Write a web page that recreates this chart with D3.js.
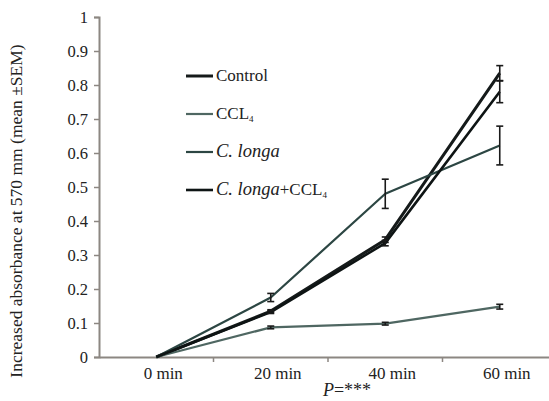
<!DOCTYPE html>
<html>
<head>
<meta charset="utf-8">
<script src="https://cdn.jsdelivr.net/npm/d3@7"></script>
<style>
  body { margin: 0; background: #fff; }
</style>
</head>
<body>
<div id="chart"></div>
<script>
'use strict'

// data
const times = ['0 min', '20 min', '40 min', '60 min']
const yTicks = [0, 0.1, 0.2, 0.3, 0.4, 0.5, 0.6, 0.7, 0.8, 0.9, 1]

const controlVals = [0, 0.135, 0.345, 0.835]
const controlErr = [0, 0.004, 0.008, 0.022]
const cclVals = [0, 0.087, 0.098, 0.148]
const cclErr = [0, 0.004, 0.004, 0.007]
const longaVals = [0, 0.175, 0.48, 0.622]
const longaErr = [0, 0.012, 0.043, 0.057]
const longaCclVals = [0, 0.132, 0.335, 0.78]
const longaCclErr = [0, 0.004, 0.008, 0.032]

const series = [
  {name: 'Control', vals: controlVals, err: controlErr, color: '#151a1a', width: 3},
  {name: 'CCL4', vals: cclVals, err: cclErr, color: '#4f6762', width: 2.2},
  {name: 'C. longa', vals: longaVals, err: longaErr, color: '#2c4643', width: 2.2},
  {name: 'C. longa+CCL4', vals: longaCclVals, err: longaCclErr, color: '#0e1414', width: 2.6}
]

const fontFamily = '"Liberation Serif", "Times New Roman", serif'

////////////////////////////////////
//////////// svg setup /////////////
////////////////////////////////////

const svgWidth = 549
const svgHeight = 401
const margin = {left: 99, top: 17, right: 0, bottom: 44}
const height = svgHeight - margin.top - margin.bottom

const svg = d3.select('#chart')
  .append('svg')
  .attr('width', svgWidth)
  .attr('height', svgHeight)

const g = svg.append('g')
  .attr('transform', `translate(${margin.left},${margin.top})`)

////////////////////////////////////
//////////////scales////////////////
////////////////////////////////////

const xScale = d3.scaleBand()
  .domain(times)
  .range([0, 458])

const yScale = d3.scaleLinear()
  .domain([0, 1])
  .range([height, 0])

const xMid = d => xScale(d) + xScale.bandwidth() / 2

////////////////////////////////////
//////////////axes//////////////////
////////////////////////////////////

const axisColor = '#8c8782'

const yAxis = g.append('g')
  .call(d3.axisLeft(yScale).tickValues(yTicks).tickFormat(d => d === 0 || d === 1 ? d : d.toFixed(1)).tickSize(5).tickPadding(6))
yAxis.select('.domain').attr('stroke', axisColor).attr('stroke-width', 2)
yAxis.selectAll('.tick line').attr('stroke', axisColor).attr('stroke-width', 1.5)
yAxis.selectAll('.tick text')
  .style('font-family', fontFamily)
  .style('font-size', '16.5px')
  .attr('fill', '#222')

const xAxis = g.append('g')
  .attr('transform', `translate(0,${height})`)
  .call(d3.axisBottom(xScale).tickSize(0).tickPadding(10))
xAxis.select('.domain').attr('stroke', axisColor).attr('stroke-width', 2)
xAxis.selectAll('.tick text')
  .style('font-family', fontFamily)
  .style('font-size', '17px')
  .attr('fill', '#222')
  .attr('dx', 7)

// tick marks between categories
g.selectAll('.xsep')
  .data(times.slice(1))
  .join('line')
  .attr('class', 'xsep')
  .attr('x1', d => xScale(d))
  .attr('x2', d => xScale(d))
  .attr('y1', height)
  .attr('y2', height + 5)
  .attr('stroke', axisColor)
  .attr('stroke-width', 1.5)

// axis titles
svg.append('text')
  .attr('transform', `translate(22,${margin.top + height / 2 + 24}) rotate(-90)`)
  .attr('text-anchor', 'middle')
  .attr('fill', '#222')
  .style('font-family', fontFamily)
  .style('font-size', '17.5px')
  .text('Increased absorbance at 570 mm (mean \u00B1SEM)')

const pLabel = svg.append('text')
  .attr('x', 347)
  .attr('y', 396)
  .attr('text-anchor', 'middle')
  .attr('fill', '#222')
  .style('font-family', fontFamily)
  .style('font-size', '18px')
pLabel.append('tspan').style('font-style', 'italic').text('P')
pLabel.append('tspan').text('=***')

////////////////////////////////////
//////////////lines/////////////////
////////////////////////////////////

const line = d3.line()
  .x((d, i) => xMid(times[i]))
  .y(d => yScale(d))

series.forEach(s => {
  g.append('path')
    .datum(s.vals)
    .attr('fill', 'none')
    .attr('stroke', s.color)
    .attr('stroke-width', s.width)
    .attr('stroke-linejoin', 'round')
    .attr('d', line)

  const eb = g.append('g')
  s.vals.forEach((v, i) => {
    if (i === 0) return
    const x = xMid(times[i])
    const y1 = yScale(v - s.err[i])
    const y2 = yScale(v + s.err[i])
    eb.append('line').attr('x1', x).attr('x2', x).attr('y1', y1).attr('y2', y2)
    eb.append('line').attr('x1', x - 3.5).attr('x2', x + 3.5).attr('y1', y1).attr('y2', y1)
    eb.append('line').attr('x1', x - 3.5).attr('x2', x + 3.5).attr('y1', y2).attr('y2', y2)
  })
  eb.selectAll('line').attr('stroke', '#1a1a1a').attr('stroke-width', 1.6)
})

////////////////////////////////////
//////////////legend////////////////
////////////////////////////////////

const legend = svg.append('g').attr('transform', 'translate(186,76)')
const rowGap = 38

series.forEach((s, i) => {
  const row = legend.append('g').attr('transform', `translate(0,${i * rowGap})`)
  row.append('line')
    .attr('x1', 0).attr('x2', 27)
    .attr('y1', 0).attr('y2', 0)
    .attr('stroke', s.color)
    .attr('stroke-width', s.width)
  const t = row.append('text')
    .attr('x', 30)
    .attr('y', 5)
    .attr('fill', '#222')
    .style('font-family', fontFamily)
    .style('font-size', '17px')
  if (s.name === 'Control') {
    t.text('Control')
  } else if (s.name === 'CCL4') {
    t.append('tspan').text('CCL')
    t.append('tspan').attr('dy', 3).style('font-size', '9px').text('4')
  } else if (s.name === 'C. longa') {
    t.append('tspan').style('font-style', 'italic').style('font-size', '18.5px').text('C. longa')
  } else {
    t.append('tspan').style('font-style', 'italic').style('font-size', '18.5px').text('C. longa')
    t.append('tspan').text('+CCL')
    t.append('tspan').attr('dy', 3).style('font-size', '9px').text('4')
  }
})
</script>
</body>
</html>
